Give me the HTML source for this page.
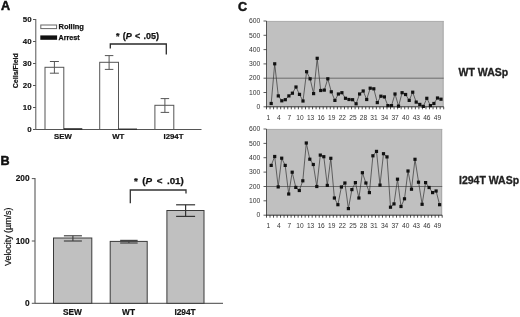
<!DOCTYPE html>
<html><head><meta charset="utf-8"><style>
html,body{margin:0;padding:0;background:#fff;}
body{width:520px;height:317px;overflow:hidden;font-family:"Liberation Sans",sans-serif;}
svg{display:block;filter:blur(0.5px);}
</style></head><body>
<svg width="520" height="317" viewBox="0 0 520 317">
<rect width="520" height="317" fill="#fff"/>
<text x="1.0" y="10.2" font-family="Liberation Sans, sans-serif" font-size="12.6" font-weight="bold" fill="#111" stroke="#111" stroke-width="0.5">A</text>
<line x1="35.8" y1="19" x2="35.8" y2="129.5" stroke="#555" stroke-width="1"/>
<line x1="35.8" y1="129.5" x2="201.5" y2="129.5" stroke="#555" stroke-width="1"/>
<line x1="33" y1="129.5" x2="35.8" y2="129.5" stroke="#555" stroke-width="1"/>
<text x="31.6" y="132.3" font-family="Liberation Sans, sans-serif" font-size="7.9" font-weight="bold" text-anchor="end" fill="#111" stroke="#111" stroke-width="0.15">0</text>
<line x1="33" y1="107.5" x2="35.8" y2="107.5" stroke="#555" stroke-width="1"/>
<text x="31.6" y="110.3" font-family="Liberation Sans, sans-serif" font-size="7.9" font-weight="bold" text-anchor="end" fill="#111" stroke="#111" stroke-width="0.15">10</text>
<line x1="33" y1="85.5" x2="35.8" y2="85.5" stroke="#555" stroke-width="1"/>
<text x="31.6" y="88.3" font-family="Liberation Sans, sans-serif" font-size="7.9" font-weight="bold" text-anchor="end" fill="#111" stroke="#111" stroke-width="0.15">20</text>
<line x1="33" y1="63.5" x2="35.8" y2="63.5" stroke="#555" stroke-width="1"/>
<text x="31.6" y="66.3" font-family="Liberation Sans, sans-serif" font-size="7.9" font-weight="bold" text-anchor="end" fill="#111" stroke="#111" stroke-width="0.15">30</text>
<line x1="33" y1="41.5" x2="35.8" y2="41.5" stroke="#555" stroke-width="1"/>
<text x="31.6" y="44.3" font-family="Liberation Sans, sans-serif" font-size="7.9" font-weight="bold" text-anchor="end" fill="#111" stroke="#111" stroke-width="0.15">40</text>
<line x1="33" y1="19.5" x2="35.8" y2="19.5" stroke="#555" stroke-width="1"/>
<text x="31.6" y="22.3" font-family="Liberation Sans, sans-serif" font-size="7.9" font-weight="bold" text-anchor="end" fill="#111" stroke="#111" stroke-width="0.15">50</text>
<text transform="translate(18.1,70.7) rotate(-90)" font-family="Liberation Sans, sans-serif" font-size="7.0" font-weight="bold" text-anchor="middle" fill="#111" stroke="#111" stroke-width="0.2">Cells/Field</text>
<rect x="45.0" y="67.3" width="18.799999999999997" height="62.2" fill="#fff" stroke="#555" stroke-width="1"/>
<line x1="54.4" y1="61.5" x2="54.4" y2="73.2" stroke="#555" stroke-width="1"/>
<line x1="49.9" y1="61.5" x2="58.9" y2="61.5" stroke="#555" stroke-width="1"/>
<line x1="49.9" y1="73.2" x2="58.9" y2="73.2" stroke="#555" stroke-width="1"/>
<rect x="63.8" y="128.3" width="18.5" height="1.2" fill="#111"/>
<rect x="99.7" y="62.3" width="18.799999999999997" height="67.2" fill="#fff" stroke="#555" stroke-width="1"/>
<line x1="109.1" y1="55.6" x2="109.1" y2="69.4" stroke="#555" stroke-width="1"/>
<line x1="104.85" y1="55.6" x2="113.35" y2="55.6" stroke="#555" stroke-width="1"/>
<line x1="104.85" y1="69.4" x2="113.35" y2="69.4" stroke="#555" stroke-width="1"/>
<rect x="118.5" y="128.6" width="18.5" height="0.9" fill="#111"/>
<rect x="154.9" y="105.3" width="18.900000000000006" height="24.200000000000003" fill="#fff" stroke="#555" stroke-width="1"/>
<line x1="164.9" y1="98.6" x2="164.9" y2="112.4" stroke="#555" stroke-width="1"/>
<line x1="160.65" y1="98.6" x2="169.15" y2="98.6" stroke="#555" stroke-width="1"/>
<line x1="160.65" y1="112.4" x2="169.15" y2="112.4" stroke="#555" stroke-width="1"/>
<rect x="40.8" y="25" width="15.8" height="3.6" fill="#fff" stroke="#666" stroke-width="1"/>
<rect x="40.3" y="35.4" width="16.8" height="4.4" fill="#111"/>
<text x="58.5" y="29.4" font-family="Liberation Sans, sans-serif" font-size="7.5" font-weight="bold" fill="#111" stroke="#111" stroke-width="0.25">Rolling</text>
<text x="58.5" y="40.1" font-family="Liberation Sans, sans-serif" font-size="7.2" font-weight="bold" fill="#111" stroke="#111" stroke-width="0.25">Arrest</text>
<polyline points="110.3,48.6 110.3,44 166.3,44 166.3,54.5" fill="none" stroke="#2a2a2a" stroke-width="1.3"/>
<text x="116.0" y="39.4" font-family="Liberation Sans, sans-serif" font-size="9.0" word-spacing="0.7" font-weight="bold" fill="#111" stroke="#111" stroke-width="0.25">* (<tspan font-style="italic">P</tspan> &lt; .05)</text>
<text x="63.0" y="139.4" font-family="Liberation Sans, sans-serif" font-size="7.8" font-weight="bold" text-anchor="middle" fill="#111" stroke="#111" stroke-width="0.2">SEW</text>
<text x="118.3" y="139.4" font-family="Liberation Sans, sans-serif" font-size="7.8" font-weight="bold" text-anchor="middle" fill="#111" stroke="#111" stroke-width="0.2">WT</text>
<text x="173.5" y="139.4" font-family="Liberation Sans, sans-serif" font-size="7.8" font-weight="bold" text-anchor="middle" fill="#111" stroke="#111" stroke-width="0.2">I294T</text>
<text x="0.4" y="164.7" font-family="Liberation Sans, sans-serif" font-size="12.6" font-weight="bold" fill="#111" stroke="#111" stroke-width="0.5">B</text>
<line x1="35.0" y1="178" x2="35.0" y2="303.3" stroke="#666" stroke-width="1.2"/>
<line x1="35.0" y1="303.3" x2="223" y2="303.3" stroke="#444" stroke-width="1"/>
<line x1="31.8" y1="303.3" x2="35.0" y2="303.3" stroke="#555" stroke-width="1"/>
<text x="29.6" y="306.0" font-family="Liberation Sans, sans-serif" font-size="8.3" font-weight="bold" text-anchor="end" fill="#111" stroke="#111" stroke-width="0.15">0</text>
<line x1="31.8" y1="241.0" x2="35.0" y2="241.0" stroke="#555" stroke-width="1"/>
<text x="29.6" y="243.7" font-family="Liberation Sans, sans-serif" font-size="8.3" font-weight="bold" text-anchor="end" fill="#111" stroke="#111" stroke-width="0.15">100</text>
<line x1="31.8" y1="178.6" x2="35.0" y2="178.6" stroke="#555" stroke-width="1"/>
<text x="29.6" y="181.3" font-family="Liberation Sans, sans-serif" font-size="8.3" font-weight="bold" text-anchor="end" fill="#111" stroke="#111" stroke-width="0.15">200</text>
<text transform="translate(11.1,236.8) rotate(-90)" font-family="Liberation Sans, sans-serif" font-size="8.9" text-anchor="middle" fill="#111" stroke="#111" stroke-width="0.2">Velocity (µm/s)</text>
<rect x="53.5" y="238.0" width="38.3" height="65.30000000000001" fill="#c0c0c0" stroke="#3a3a3a" stroke-width="1"/>
<line x1="72.9" y1="235.8" x2="72.9" y2="241.0" stroke="#444" stroke-width="1.2"/>
<line x1="63.900000000000006" y1="235.8" x2="81.9" y2="235.8" stroke="#444" stroke-width="1.2"/>
<line x1="63.900000000000006" y1="241.0" x2="81.9" y2="241.0" stroke="#444" stroke-width="1.2"/>
<rect x="110.2" y="241.4" width="36.999999999999986" height="61.900000000000006" fill="#c0c0c0" stroke="#3a3a3a" stroke-width="1"/>
<line x1="128.9" y1="240.4" x2="128.9" y2="243.0" stroke="#444" stroke-width="1.2"/>
<line x1="120.15" y1="240.4" x2="137.65" y2="240.4" stroke="#444" stroke-width="1.2"/>
<line x1="120.15" y1="243.0" x2="137.65" y2="243.0" stroke="#444" stroke-width="1.2"/>
<rect x="166.9" y="210.5" width="37.099999999999994" height="92.80000000000001" fill="#c0c0c0" stroke="#3a3a3a" stroke-width="1"/>
<line x1="185.6" y1="204.8" x2="185.6" y2="216.4" stroke="#333" stroke-width="1.2"/>
<line x1="176.1" y1="204.8" x2="195.1" y2="204.8" stroke="#333" stroke-width="1.2"/>
<line x1="176.1" y1="216.4" x2="195.1" y2="216.4" stroke="#333" stroke-width="1.2"/>
<polyline points="130.3,203.3 130.3,190 186,190 186,193.6" fill="none" stroke="#333" stroke-width="1.3"/>
<text x="134" y="184.2" font-family="Liberation Sans, sans-serif" font-size="9.8" word-spacing="1.8" font-weight="bold" fill="#111" stroke="#111" stroke-width="0.25">* (<tspan font-style="italic">P</tspan> &lt; .01)</text>
<text x="72.5" y="315.2" font-family="Liberation Sans, sans-serif" font-size="8.3" font-weight="bold" text-anchor="middle" fill="#111" stroke="#111" stroke-width="0.2">SEW</text>
<text x="128.5" y="315.2" font-family="Liberation Sans, sans-serif" font-size="8.3" font-weight="bold" text-anchor="middle" fill="#111" stroke="#111" stroke-width="0.2">WT</text>
<text x="185" y="315.2" font-family="Liberation Sans, sans-serif" font-size="8.3" font-weight="bold" text-anchor="middle" fill="#111" stroke="#111" stroke-width="0.2">I294T</text>
<text x="237.9" y="10.8" font-family="Liberation Sans, sans-serif" font-size="12.6" font-weight="bold" fill="#111" stroke="#111" stroke-width="0.5">C</text>
<rect x="266.5" y="21.0" width="177.2" height="85.8" fill="#c0c0c0"/>
<line x1="266.5" y1="21.4" x2="443.7" y2="21.4" stroke="#a8a8a8" stroke-width="0.8"/>
<line x1="443.09999999999997" y1="21.0" x2="443.09999999999997" y2="106.8" stroke="#a8a8a8" stroke-width="0.9"/>
<line x1="266.5" y1="78.2" x2="443.7" y2="78.2" stroke="#555" stroke-width="0.8"/>
<line x1="266.5" y1="21.0" x2="266.5" y2="106.8" stroke="#555" stroke-width="1"/>
<line x1="266" y1="106.8" x2="443.7" y2="106.8" stroke="#333" stroke-width="1"/>
<line x1="263.5" y1="106.8" x2="266.5" y2="106.8" stroke="#333" stroke-width="0.8"/>
<text x="260.3" y="109.0" font-family="Liberation Sans, sans-serif" font-size="6.8" text-anchor="end" fill="#333">0</text>
<line x1="263.5" y1="92.5" x2="266.5" y2="92.5" stroke="#333" stroke-width="0.8"/>
<text x="260.3" y="94.7" font-family="Liberation Sans, sans-serif" font-size="6.8" text-anchor="end" fill="#333">100</text>
<line x1="263.5" y1="78.2" x2="266.5" y2="78.2" stroke="#333" stroke-width="0.8"/>
<text x="260.3" y="80.4" font-family="Liberation Sans, sans-serif" font-size="6.8" text-anchor="end" fill="#333">200</text>
<line x1="263.5" y1="63.9" x2="266.5" y2="63.9" stroke="#333" stroke-width="0.8"/>
<text x="260.3" y="66.1" font-family="Liberation Sans, sans-serif" font-size="6.8" text-anchor="end" fill="#333">300</text>
<line x1="263.5" y1="49.6" x2="266.5" y2="49.6" stroke="#333" stroke-width="0.8"/>
<text x="260.3" y="51.8" font-family="Liberation Sans, sans-serif" font-size="6.8" text-anchor="end" fill="#333">400</text>
<line x1="263.5" y1="35.3" x2="266.5" y2="35.3" stroke="#333" stroke-width="0.8"/>
<text x="260.3" y="37.5" font-family="Liberation Sans, sans-serif" font-size="6.8" text-anchor="end" fill="#333">500</text>
<line x1="263.5" y1="21.0" x2="266.5" y2="21.0" stroke="#333" stroke-width="0.8"/>
<text x="260.3" y="23.2" font-family="Liberation Sans, sans-serif" font-size="6.8" text-anchor="end" fill="#333">600</text>
<line x1="266.50" y1="106.8" x2="266.50" y2="109.3" stroke="#222" stroke-width="0.8"/>
<line x1="270.04" y1="106.8" x2="270.04" y2="109.3" stroke="#222" stroke-width="0.8"/>
<line x1="273.59" y1="106.8" x2="273.59" y2="109.3" stroke="#222" stroke-width="0.8"/>
<line x1="277.13" y1="106.8" x2="277.13" y2="109.3" stroke="#222" stroke-width="0.8"/>
<line x1="280.68" y1="106.8" x2="280.68" y2="109.3" stroke="#222" stroke-width="0.8"/>
<line x1="284.22" y1="106.8" x2="284.22" y2="109.3" stroke="#222" stroke-width="0.8"/>
<line x1="287.76" y1="106.8" x2="287.76" y2="109.3" stroke="#222" stroke-width="0.8"/>
<line x1="291.31" y1="106.8" x2="291.31" y2="109.3" stroke="#222" stroke-width="0.8"/>
<line x1="294.85" y1="106.8" x2="294.85" y2="109.3" stroke="#222" stroke-width="0.8"/>
<line x1="298.40" y1="106.8" x2="298.40" y2="109.3" stroke="#222" stroke-width="0.8"/>
<line x1="301.94" y1="106.8" x2="301.94" y2="109.3" stroke="#222" stroke-width="0.8"/>
<line x1="305.48" y1="106.8" x2="305.48" y2="109.3" stroke="#222" stroke-width="0.8"/>
<line x1="309.03" y1="106.8" x2="309.03" y2="109.3" stroke="#222" stroke-width="0.8"/>
<line x1="312.57" y1="106.8" x2="312.57" y2="109.3" stroke="#222" stroke-width="0.8"/>
<line x1="316.12" y1="106.8" x2="316.12" y2="109.3" stroke="#222" stroke-width="0.8"/>
<line x1="319.66" y1="106.8" x2="319.66" y2="109.3" stroke="#222" stroke-width="0.8"/>
<line x1="323.20" y1="106.8" x2="323.20" y2="109.3" stroke="#222" stroke-width="0.8"/>
<line x1="326.75" y1="106.8" x2="326.75" y2="109.3" stroke="#222" stroke-width="0.8"/>
<line x1="330.29" y1="106.8" x2="330.29" y2="109.3" stroke="#222" stroke-width="0.8"/>
<line x1="333.84" y1="106.8" x2="333.84" y2="109.3" stroke="#222" stroke-width="0.8"/>
<line x1="337.38" y1="106.8" x2="337.38" y2="109.3" stroke="#222" stroke-width="0.8"/>
<line x1="340.92" y1="106.8" x2="340.92" y2="109.3" stroke="#222" stroke-width="0.8"/>
<line x1="344.47" y1="106.8" x2="344.47" y2="109.3" stroke="#222" stroke-width="0.8"/>
<line x1="348.01" y1="106.8" x2="348.01" y2="109.3" stroke="#222" stroke-width="0.8"/>
<line x1="351.56" y1="106.8" x2="351.56" y2="109.3" stroke="#222" stroke-width="0.8"/>
<line x1="355.10" y1="106.8" x2="355.10" y2="109.3" stroke="#222" stroke-width="0.8"/>
<line x1="358.64" y1="106.8" x2="358.64" y2="109.3" stroke="#222" stroke-width="0.8"/>
<line x1="362.19" y1="106.8" x2="362.19" y2="109.3" stroke="#222" stroke-width="0.8"/>
<line x1="365.73" y1="106.8" x2="365.73" y2="109.3" stroke="#222" stroke-width="0.8"/>
<line x1="369.28" y1="106.8" x2="369.28" y2="109.3" stroke="#222" stroke-width="0.8"/>
<line x1="372.82" y1="106.8" x2="372.82" y2="109.3" stroke="#222" stroke-width="0.8"/>
<line x1="376.36" y1="106.8" x2="376.36" y2="109.3" stroke="#222" stroke-width="0.8"/>
<line x1="379.91" y1="106.8" x2="379.91" y2="109.3" stroke="#222" stroke-width="0.8"/>
<line x1="383.45" y1="106.8" x2="383.45" y2="109.3" stroke="#222" stroke-width="0.8"/>
<line x1="387.00" y1="106.8" x2="387.00" y2="109.3" stroke="#222" stroke-width="0.8"/>
<line x1="390.54" y1="106.8" x2="390.54" y2="109.3" stroke="#222" stroke-width="0.8"/>
<line x1="394.08" y1="106.8" x2="394.08" y2="109.3" stroke="#222" stroke-width="0.8"/>
<line x1="397.63" y1="106.8" x2="397.63" y2="109.3" stroke="#222" stroke-width="0.8"/>
<line x1="401.17" y1="106.8" x2="401.17" y2="109.3" stroke="#222" stroke-width="0.8"/>
<line x1="404.72" y1="106.8" x2="404.72" y2="109.3" stroke="#222" stroke-width="0.8"/>
<line x1="408.26" y1="106.8" x2="408.26" y2="109.3" stroke="#222" stroke-width="0.8"/>
<line x1="411.80" y1="106.8" x2="411.80" y2="109.3" stroke="#222" stroke-width="0.8"/>
<line x1="415.35" y1="106.8" x2="415.35" y2="109.3" stroke="#222" stroke-width="0.8"/>
<line x1="418.89" y1="106.8" x2="418.89" y2="109.3" stroke="#222" stroke-width="0.8"/>
<line x1="422.44" y1="106.8" x2="422.44" y2="109.3" stroke="#222" stroke-width="0.8"/>
<line x1="425.98" y1="106.8" x2="425.98" y2="109.3" stroke="#222" stroke-width="0.8"/>
<line x1="429.52" y1="106.8" x2="429.52" y2="109.3" stroke="#222" stroke-width="0.8"/>
<line x1="433.07" y1="106.8" x2="433.07" y2="109.3" stroke="#222" stroke-width="0.8"/>
<line x1="436.61" y1="106.8" x2="436.61" y2="109.3" stroke="#222" stroke-width="0.8"/>
<line x1="440.16" y1="106.8" x2="440.16" y2="109.3" stroke="#222" stroke-width="0.8"/>
<line x1="443.70" y1="106.8" x2="443.70" y2="109.3" stroke="#222" stroke-width="0.8"/>
<text x="268.3" y="119.8" font-family="Liberation Sans, sans-serif" font-size="6.6" text-anchor="middle" fill="#333">1</text>
<text x="278.9" y="119.8" font-family="Liberation Sans, sans-serif" font-size="6.6" text-anchor="middle" fill="#333">4</text>
<text x="289.4" y="119.8" font-family="Liberation Sans, sans-serif" font-size="6.6" text-anchor="middle" fill="#333">7</text>
<text x="300.0" y="119.8" font-family="Liberation Sans, sans-serif" font-size="6.6" text-anchor="middle" fill="#333">10</text>
<text x="310.6" y="119.8" font-family="Liberation Sans, sans-serif" font-size="6.6" text-anchor="middle" fill="#333">13</text>
<text x="321.1" y="119.8" font-family="Liberation Sans, sans-serif" font-size="6.6" text-anchor="middle" fill="#333">16</text>
<text x="331.7" y="119.8" font-family="Liberation Sans, sans-serif" font-size="6.6" text-anchor="middle" fill="#333">19</text>
<text x="342.3" y="119.8" font-family="Liberation Sans, sans-serif" font-size="6.6" text-anchor="middle" fill="#333">22</text>
<text x="352.9" y="119.8" font-family="Liberation Sans, sans-serif" font-size="6.6" text-anchor="middle" fill="#333">25</text>
<text x="363.4" y="119.8" font-family="Liberation Sans, sans-serif" font-size="6.6" text-anchor="middle" fill="#333">28</text>
<text x="374.0" y="119.8" font-family="Liberation Sans, sans-serif" font-size="6.6" text-anchor="middle" fill="#333">31</text>
<text x="384.6" y="119.8" font-family="Liberation Sans, sans-serif" font-size="6.6" text-anchor="middle" fill="#333">34</text>
<text x="395.1" y="119.8" font-family="Liberation Sans, sans-serif" font-size="6.6" text-anchor="middle" fill="#333">37</text>
<text x="405.7" y="119.8" font-family="Liberation Sans, sans-serif" font-size="6.6" text-anchor="middle" fill="#333">40</text>
<text x="416.3" y="119.8" font-family="Liberation Sans, sans-serif" font-size="6.6" text-anchor="middle" fill="#333">43</text>
<text x="426.8" y="119.8" font-family="Liberation Sans, sans-serif" font-size="6.6" text-anchor="middle" fill="#333">46</text>
<text x="437.4" y="119.8" font-family="Liberation Sans, sans-serif" font-size="6.6" text-anchor="middle" fill="#333">49</text>
<polyline points="271.2,103.5 274.7,63.8 278.3,95.9 281.8,100.8 285.3,99.7 288.9,95.9 292.4,93.2 296.0,87.0 299.5,94.4 303.0,101.0 306.6,71.7 310.1,78.8 313.6,93.6 317.2,58.3 320.7,90.5 324.3,90.1 327.8,78.8 331.3,91.8 334.9,100.4 338.4,94.0 341.9,92.7 345.5,98.3 349.0,99.5 352.6,99.7 356.1,103.8 359.6,94.0 363.2,91.0 366.7,99.5 370.2,88.2 373.8,88.8 377.3,102.6 380.9,96.2 384.4,96.9 387.9,105.6 391.5,105.6 395.0,94.0 398.6,106.1 402.1,92.7 405.6,94.5 409.2,100.4 412.7,92.2 416.2,102.1 419.8,104.4 423.3,106.4 426.9,98.3 430.4,105.6 433.9,103.5 437.5,98.0 441.0,99.2" fill="none" stroke="#333" stroke-width="0.7"/>
<rect x="269.6" y="101.9" width="3.2" height="3.2" fill="#111"/>
<rect x="273.1" y="62.2" width="3.2" height="3.2" fill="#111"/>
<rect x="276.7" y="94.3" width="3.2" height="3.2" fill="#111"/>
<rect x="280.2" y="99.2" width="3.2" height="3.2" fill="#111"/>
<rect x="283.7" y="98.1" width="3.2" height="3.2" fill="#111"/>
<rect x="287.3" y="94.3" width="3.2" height="3.2" fill="#111"/>
<rect x="290.8" y="91.6" width="3.2" height="3.2" fill="#111"/>
<rect x="294.4" y="85.4" width="3.2" height="3.2" fill="#111"/>
<rect x="297.9" y="92.8" width="3.2" height="3.2" fill="#111"/>
<rect x="301.4" y="99.4" width="3.2" height="3.2" fill="#111"/>
<rect x="305.0" y="70.1" width="3.2" height="3.2" fill="#111"/>
<rect x="308.5" y="77.2" width="3.2" height="3.2" fill="#111"/>
<rect x="312.0" y="92.0" width="3.2" height="3.2" fill="#111"/>
<rect x="315.6" y="56.7" width="3.2" height="3.2" fill="#111"/>
<rect x="319.1" y="88.9" width="3.2" height="3.2" fill="#111"/>
<rect x="322.7" y="88.5" width="3.2" height="3.2" fill="#111"/>
<rect x="326.2" y="77.2" width="3.2" height="3.2" fill="#111"/>
<rect x="329.7" y="90.2" width="3.2" height="3.2" fill="#111"/>
<rect x="333.3" y="98.8" width="3.2" height="3.2" fill="#111"/>
<rect x="336.8" y="92.4" width="3.2" height="3.2" fill="#111"/>
<rect x="340.3" y="91.1" width="3.2" height="3.2" fill="#111"/>
<rect x="343.9" y="96.7" width="3.2" height="3.2" fill="#111"/>
<rect x="347.4" y="97.9" width="3.2" height="3.2" fill="#111"/>
<rect x="351.0" y="98.1" width="3.2" height="3.2" fill="#111"/>
<rect x="354.5" y="102.2" width="3.2" height="3.2" fill="#111"/>
<rect x="358.0" y="92.4" width="3.2" height="3.2" fill="#111"/>
<rect x="361.6" y="89.4" width="3.2" height="3.2" fill="#111"/>
<rect x="365.1" y="97.9" width="3.2" height="3.2" fill="#111"/>
<rect x="368.6" y="86.6" width="3.2" height="3.2" fill="#111"/>
<rect x="372.2" y="87.2" width="3.2" height="3.2" fill="#111"/>
<rect x="375.7" y="101.0" width="3.2" height="3.2" fill="#111"/>
<rect x="379.3" y="94.6" width="3.2" height="3.2" fill="#111"/>
<rect x="382.8" y="95.3" width="3.2" height="3.2" fill="#111"/>
<rect x="386.3" y="104.0" width="3.2" height="3.2" fill="#111"/>
<rect x="389.9" y="104.0" width="3.2" height="3.2" fill="#111"/>
<rect x="393.4" y="92.4" width="3.2" height="3.2" fill="#111"/>
<rect x="396.9" y="104.5" width="3.2" height="3.2" fill="#111"/>
<rect x="400.5" y="91.1" width="3.2" height="3.2" fill="#111"/>
<rect x="404.0" y="92.9" width="3.2" height="3.2" fill="#111"/>
<rect x="407.6" y="98.8" width="3.2" height="3.2" fill="#111"/>
<rect x="411.1" y="90.6" width="3.2" height="3.2" fill="#111"/>
<rect x="414.6" y="100.5" width="3.2" height="3.2" fill="#111"/>
<rect x="418.2" y="102.8" width="3.2" height="3.2" fill="#111"/>
<rect x="421.7" y="104.8" width="3.2" height="3.2" fill="#111"/>
<rect x="425.2" y="96.7" width="3.2" height="3.2" fill="#111"/>
<rect x="428.8" y="104.0" width="3.2" height="3.2" fill="#111"/>
<rect x="432.3" y="101.9" width="3.2" height="3.2" fill="#111"/>
<rect x="435.9" y="96.4" width="3.2" height="3.2" fill="#111"/>
<rect x="439.4" y="97.6" width="3.2" height="3.2" fill="#111"/>
<rect x="266.5" y="129.0" width="175.7" height="86.19999999999999" fill="#c0c0c0"/>
<line x1="266.5" y1="129.4" x2="442.2" y2="129.4" stroke="#a8a8a8" stroke-width="0.8"/>
<line x1="441.59999999999997" y1="129.0" x2="441.59999999999997" y2="215.2" stroke="#a8a8a8" stroke-width="0.9"/>
<line x1="266.5" y1="186.5" x2="442.2" y2="186.5" stroke="#555" stroke-width="0.8"/>
<line x1="266.5" y1="129.0" x2="266.5" y2="215.2" stroke="#555" stroke-width="1"/>
<line x1="266" y1="215.2" x2="442.2" y2="215.2" stroke="#333" stroke-width="1"/>
<line x1="263.5" y1="215.2" x2="266.5" y2="215.2" stroke="#333" stroke-width="0.8"/>
<text x="260.3" y="217.4" font-family="Liberation Sans, sans-serif" font-size="6.8" text-anchor="end" fill="#333">0</text>
<line x1="263.5" y1="200.8" x2="266.5" y2="200.8" stroke="#333" stroke-width="0.8"/>
<text x="260.3" y="203.0" font-family="Liberation Sans, sans-serif" font-size="6.8" text-anchor="end" fill="#333">100</text>
<line x1="263.5" y1="186.5" x2="266.5" y2="186.5" stroke="#333" stroke-width="0.8"/>
<text x="260.3" y="188.7" font-family="Liberation Sans, sans-serif" font-size="6.8" text-anchor="end" fill="#333">200</text>
<line x1="263.5" y1="172.1" x2="266.5" y2="172.1" stroke="#333" stroke-width="0.8"/>
<text x="260.3" y="174.3" font-family="Liberation Sans, sans-serif" font-size="6.8" text-anchor="end" fill="#333">300</text>
<line x1="263.5" y1="157.7" x2="266.5" y2="157.7" stroke="#333" stroke-width="0.8"/>
<text x="260.3" y="159.9" font-family="Liberation Sans, sans-serif" font-size="6.8" text-anchor="end" fill="#333">400</text>
<line x1="263.5" y1="143.4" x2="266.5" y2="143.4" stroke="#333" stroke-width="0.8"/>
<text x="260.3" y="145.6" font-family="Liberation Sans, sans-serif" font-size="6.8" text-anchor="end" fill="#333">500</text>
<line x1="263.5" y1="129.0" x2="266.5" y2="129.0" stroke="#333" stroke-width="0.8"/>
<text x="260.3" y="131.2" font-family="Liberation Sans, sans-serif" font-size="6.8" text-anchor="end" fill="#333">600</text>
<line x1="266.50" y1="215.2" x2="266.50" y2="217.7" stroke="#222" stroke-width="0.8"/>
<line x1="270.01" y1="215.2" x2="270.01" y2="217.7" stroke="#222" stroke-width="0.8"/>
<line x1="273.53" y1="215.2" x2="273.53" y2="217.7" stroke="#222" stroke-width="0.8"/>
<line x1="277.04" y1="215.2" x2="277.04" y2="217.7" stroke="#222" stroke-width="0.8"/>
<line x1="280.56" y1="215.2" x2="280.56" y2="217.7" stroke="#222" stroke-width="0.8"/>
<line x1="284.07" y1="215.2" x2="284.07" y2="217.7" stroke="#222" stroke-width="0.8"/>
<line x1="287.58" y1="215.2" x2="287.58" y2="217.7" stroke="#222" stroke-width="0.8"/>
<line x1="291.10" y1="215.2" x2="291.10" y2="217.7" stroke="#222" stroke-width="0.8"/>
<line x1="294.61" y1="215.2" x2="294.61" y2="217.7" stroke="#222" stroke-width="0.8"/>
<line x1="298.13" y1="215.2" x2="298.13" y2="217.7" stroke="#222" stroke-width="0.8"/>
<line x1="301.64" y1="215.2" x2="301.64" y2="217.7" stroke="#222" stroke-width="0.8"/>
<line x1="305.15" y1="215.2" x2="305.15" y2="217.7" stroke="#222" stroke-width="0.8"/>
<line x1="308.67" y1="215.2" x2="308.67" y2="217.7" stroke="#222" stroke-width="0.8"/>
<line x1="312.18" y1="215.2" x2="312.18" y2="217.7" stroke="#222" stroke-width="0.8"/>
<line x1="315.70" y1="215.2" x2="315.70" y2="217.7" stroke="#222" stroke-width="0.8"/>
<line x1="319.21" y1="215.2" x2="319.21" y2="217.7" stroke="#222" stroke-width="0.8"/>
<line x1="322.72" y1="215.2" x2="322.72" y2="217.7" stroke="#222" stroke-width="0.8"/>
<line x1="326.24" y1="215.2" x2="326.24" y2="217.7" stroke="#222" stroke-width="0.8"/>
<line x1="329.75" y1="215.2" x2="329.75" y2="217.7" stroke="#222" stroke-width="0.8"/>
<line x1="333.27" y1="215.2" x2="333.27" y2="217.7" stroke="#222" stroke-width="0.8"/>
<line x1="336.78" y1="215.2" x2="336.78" y2="217.7" stroke="#222" stroke-width="0.8"/>
<line x1="340.29" y1="215.2" x2="340.29" y2="217.7" stroke="#222" stroke-width="0.8"/>
<line x1="343.81" y1="215.2" x2="343.81" y2="217.7" stroke="#222" stroke-width="0.8"/>
<line x1="347.32" y1="215.2" x2="347.32" y2="217.7" stroke="#222" stroke-width="0.8"/>
<line x1="350.84" y1="215.2" x2="350.84" y2="217.7" stroke="#222" stroke-width="0.8"/>
<line x1="354.35" y1="215.2" x2="354.35" y2="217.7" stroke="#222" stroke-width="0.8"/>
<line x1="357.86" y1="215.2" x2="357.86" y2="217.7" stroke="#222" stroke-width="0.8"/>
<line x1="361.38" y1="215.2" x2="361.38" y2="217.7" stroke="#222" stroke-width="0.8"/>
<line x1="364.89" y1="215.2" x2="364.89" y2="217.7" stroke="#222" stroke-width="0.8"/>
<line x1="368.41" y1="215.2" x2="368.41" y2="217.7" stroke="#222" stroke-width="0.8"/>
<line x1="371.92" y1="215.2" x2="371.92" y2="217.7" stroke="#222" stroke-width="0.8"/>
<line x1="375.43" y1="215.2" x2="375.43" y2="217.7" stroke="#222" stroke-width="0.8"/>
<line x1="378.95" y1="215.2" x2="378.95" y2="217.7" stroke="#222" stroke-width="0.8"/>
<line x1="382.46" y1="215.2" x2="382.46" y2="217.7" stroke="#222" stroke-width="0.8"/>
<line x1="385.98" y1="215.2" x2="385.98" y2="217.7" stroke="#222" stroke-width="0.8"/>
<line x1="389.49" y1="215.2" x2="389.49" y2="217.7" stroke="#222" stroke-width="0.8"/>
<line x1="393.00" y1="215.2" x2="393.00" y2="217.7" stroke="#222" stroke-width="0.8"/>
<line x1="396.52" y1="215.2" x2="396.52" y2="217.7" stroke="#222" stroke-width="0.8"/>
<line x1="400.03" y1="215.2" x2="400.03" y2="217.7" stroke="#222" stroke-width="0.8"/>
<line x1="403.55" y1="215.2" x2="403.55" y2="217.7" stroke="#222" stroke-width="0.8"/>
<line x1="407.06" y1="215.2" x2="407.06" y2="217.7" stroke="#222" stroke-width="0.8"/>
<line x1="410.57" y1="215.2" x2="410.57" y2="217.7" stroke="#222" stroke-width="0.8"/>
<line x1="414.09" y1="215.2" x2="414.09" y2="217.7" stroke="#222" stroke-width="0.8"/>
<line x1="417.60" y1="215.2" x2="417.60" y2="217.7" stroke="#222" stroke-width="0.8"/>
<line x1="421.12" y1="215.2" x2="421.12" y2="217.7" stroke="#222" stroke-width="0.8"/>
<line x1="424.63" y1="215.2" x2="424.63" y2="217.7" stroke="#222" stroke-width="0.8"/>
<line x1="428.14" y1="215.2" x2="428.14" y2="217.7" stroke="#222" stroke-width="0.8"/>
<line x1="431.66" y1="215.2" x2="431.66" y2="217.7" stroke="#222" stroke-width="0.8"/>
<line x1="435.17" y1="215.2" x2="435.17" y2="217.7" stroke="#222" stroke-width="0.8"/>
<line x1="438.69" y1="215.2" x2="438.69" y2="217.7" stroke="#222" stroke-width="0.8"/>
<line x1="442.20" y1="215.2" x2="442.20" y2="217.7" stroke="#222" stroke-width="0.8"/>
<text x="268.3" y="227.8" font-family="Liberation Sans, sans-serif" font-size="6.6" text-anchor="middle" fill="#333">1</text>
<text x="278.9" y="227.8" font-family="Liberation Sans, sans-serif" font-size="6.6" text-anchor="middle" fill="#333">4</text>
<text x="289.4" y="227.8" font-family="Liberation Sans, sans-serif" font-size="6.6" text-anchor="middle" fill="#333">7</text>
<text x="300.0" y="227.8" font-family="Liberation Sans, sans-serif" font-size="6.6" text-anchor="middle" fill="#333">10</text>
<text x="310.6" y="227.8" font-family="Liberation Sans, sans-serif" font-size="6.6" text-anchor="middle" fill="#333">13</text>
<text x="321.1" y="227.8" font-family="Liberation Sans, sans-serif" font-size="6.6" text-anchor="middle" fill="#333">16</text>
<text x="331.7" y="227.8" font-family="Liberation Sans, sans-serif" font-size="6.6" text-anchor="middle" fill="#333">19</text>
<text x="342.3" y="227.8" font-family="Liberation Sans, sans-serif" font-size="6.6" text-anchor="middle" fill="#333">22</text>
<text x="352.9" y="227.8" font-family="Liberation Sans, sans-serif" font-size="6.6" text-anchor="middle" fill="#333">25</text>
<text x="363.4" y="227.8" font-family="Liberation Sans, sans-serif" font-size="6.6" text-anchor="middle" fill="#333">28</text>
<text x="374.0" y="227.8" font-family="Liberation Sans, sans-serif" font-size="6.6" text-anchor="middle" fill="#333">31</text>
<text x="384.6" y="227.8" font-family="Liberation Sans, sans-serif" font-size="6.6" text-anchor="middle" fill="#333">34</text>
<text x="395.1" y="227.8" font-family="Liberation Sans, sans-serif" font-size="6.6" text-anchor="middle" fill="#333">37</text>
<text x="405.7" y="227.8" font-family="Liberation Sans, sans-serif" font-size="6.6" text-anchor="middle" fill="#333">40</text>
<text x="416.3" y="227.8" font-family="Liberation Sans, sans-serif" font-size="6.6" text-anchor="middle" fill="#333">43</text>
<text x="426.8" y="227.8" font-family="Liberation Sans, sans-serif" font-size="6.6" text-anchor="middle" fill="#333">46</text>
<text x="437.4" y="227.8" font-family="Liberation Sans, sans-serif" font-size="6.6" text-anchor="middle" fill="#333">49</text>
<polyline points="271.2,165.4 274.7,156.5 278.2,186.9 281.7,158.2 285.2,165.4 288.7,194.0 292.2,172.2 295.8,187.4 299.3,190.5 302.8,180.8 306.3,143.0 309.8,159.2 313.3,164.5 316.8,186.5 320.3,155.1 323.8,156.7 327.3,185.4 330.8,158.3 334.4,198.0 337.9,204.7 341.4,187.0 344.9,183.0 348.4,208.6 351.9,189.6 355.4,182.6 358.9,198.0 362.4,172.7 365.9,183.0 369.4,192.6 372.9,155.8 376.5,151.4 380.0,185.1 383.5,153.7 387.0,156.9 390.5,207.2 394.0,203.9 397.5,179.2 401.0,206.5 404.5,198.8 408.0,171.0 411.5,189.2 415.0,159.3 418.6,182.2 422.1,204.3 425.6,182.6 429.1,187.5 432.6,192.6 436.1,191.0 439.6,204.7" fill="none" stroke="#333" stroke-width="0.7"/>
<rect x="269.6" y="163.8" width="3.2" height="3.2" fill="#111"/>
<rect x="273.1" y="154.9" width="3.2" height="3.2" fill="#111"/>
<rect x="276.6" y="185.3" width="3.2" height="3.2" fill="#111"/>
<rect x="280.1" y="156.6" width="3.2" height="3.2" fill="#111"/>
<rect x="283.6" y="163.8" width="3.2" height="3.2" fill="#111"/>
<rect x="287.1" y="192.4" width="3.2" height="3.2" fill="#111"/>
<rect x="290.6" y="170.6" width="3.2" height="3.2" fill="#111"/>
<rect x="294.2" y="185.8" width="3.2" height="3.2" fill="#111"/>
<rect x="297.7" y="188.9" width="3.2" height="3.2" fill="#111"/>
<rect x="301.2" y="179.2" width="3.2" height="3.2" fill="#111"/>
<rect x="304.7" y="141.4" width="3.2" height="3.2" fill="#111"/>
<rect x="308.2" y="157.6" width="3.2" height="3.2" fill="#111"/>
<rect x="311.7" y="162.9" width="3.2" height="3.2" fill="#111"/>
<rect x="315.2" y="184.9" width="3.2" height="3.2" fill="#111"/>
<rect x="318.7" y="153.5" width="3.2" height="3.2" fill="#111"/>
<rect x="322.2" y="155.1" width="3.2" height="3.2" fill="#111"/>
<rect x="325.7" y="183.8" width="3.2" height="3.2" fill="#111"/>
<rect x="329.2" y="156.7" width="3.2" height="3.2" fill="#111"/>
<rect x="332.8" y="196.4" width="3.2" height="3.2" fill="#111"/>
<rect x="336.3" y="203.1" width="3.2" height="3.2" fill="#111"/>
<rect x="339.8" y="185.4" width="3.2" height="3.2" fill="#111"/>
<rect x="343.3" y="181.4" width="3.2" height="3.2" fill="#111"/>
<rect x="346.8" y="207.0" width="3.2" height="3.2" fill="#111"/>
<rect x="350.3" y="188.0" width="3.2" height="3.2" fill="#111"/>
<rect x="353.8" y="181.0" width="3.2" height="3.2" fill="#111"/>
<rect x="357.3" y="196.4" width="3.2" height="3.2" fill="#111"/>
<rect x="360.8" y="171.1" width="3.2" height="3.2" fill="#111"/>
<rect x="364.3" y="181.4" width="3.2" height="3.2" fill="#111"/>
<rect x="367.8" y="191.0" width="3.2" height="3.2" fill="#111"/>
<rect x="371.3" y="154.2" width="3.2" height="3.2" fill="#111"/>
<rect x="374.9" y="149.8" width="3.2" height="3.2" fill="#111"/>
<rect x="378.4" y="183.5" width="3.2" height="3.2" fill="#111"/>
<rect x="381.9" y="152.1" width="3.2" height="3.2" fill="#111"/>
<rect x="385.4" y="155.3" width="3.2" height="3.2" fill="#111"/>
<rect x="388.9" y="205.6" width="3.2" height="3.2" fill="#111"/>
<rect x="392.4" y="202.3" width="3.2" height="3.2" fill="#111"/>
<rect x="395.9" y="177.6" width="3.2" height="3.2" fill="#111"/>
<rect x="399.4" y="204.9" width="3.2" height="3.2" fill="#111"/>
<rect x="402.9" y="197.2" width="3.2" height="3.2" fill="#111"/>
<rect x="406.4" y="169.4" width="3.2" height="3.2" fill="#111"/>
<rect x="409.9" y="187.6" width="3.2" height="3.2" fill="#111"/>
<rect x="413.4" y="157.7" width="3.2" height="3.2" fill="#111"/>
<rect x="416.9" y="180.6" width="3.2" height="3.2" fill="#111"/>
<rect x="420.5" y="202.7" width="3.2" height="3.2" fill="#111"/>
<rect x="424.0" y="181.0" width="3.2" height="3.2" fill="#111"/>
<rect x="427.5" y="185.9" width="3.2" height="3.2" fill="#111"/>
<rect x="431.0" y="191.0" width="3.2" height="3.2" fill="#111"/>
<rect x="434.5" y="189.4" width="3.2" height="3.2" fill="#111"/>
<rect x="438.0" y="203.1" width="3.2" height="3.2" fill="#111"/>
<text x="458.6" y="75.8" font-family="Liberation Sans, sans-serif" font-size="10.5" font-weight="bold" fill="#222" stroke="#222" stroke-width="0.3">WT WASp</text>
<text x="459.0" y="184.0" font-family="Liberation Sans, sans-serif" font-size="10.5" font-weight="bold" fill="#222" stroke="#222" stroke-width="0.3">I294T WASp</text>
</svg>
</body></html>
